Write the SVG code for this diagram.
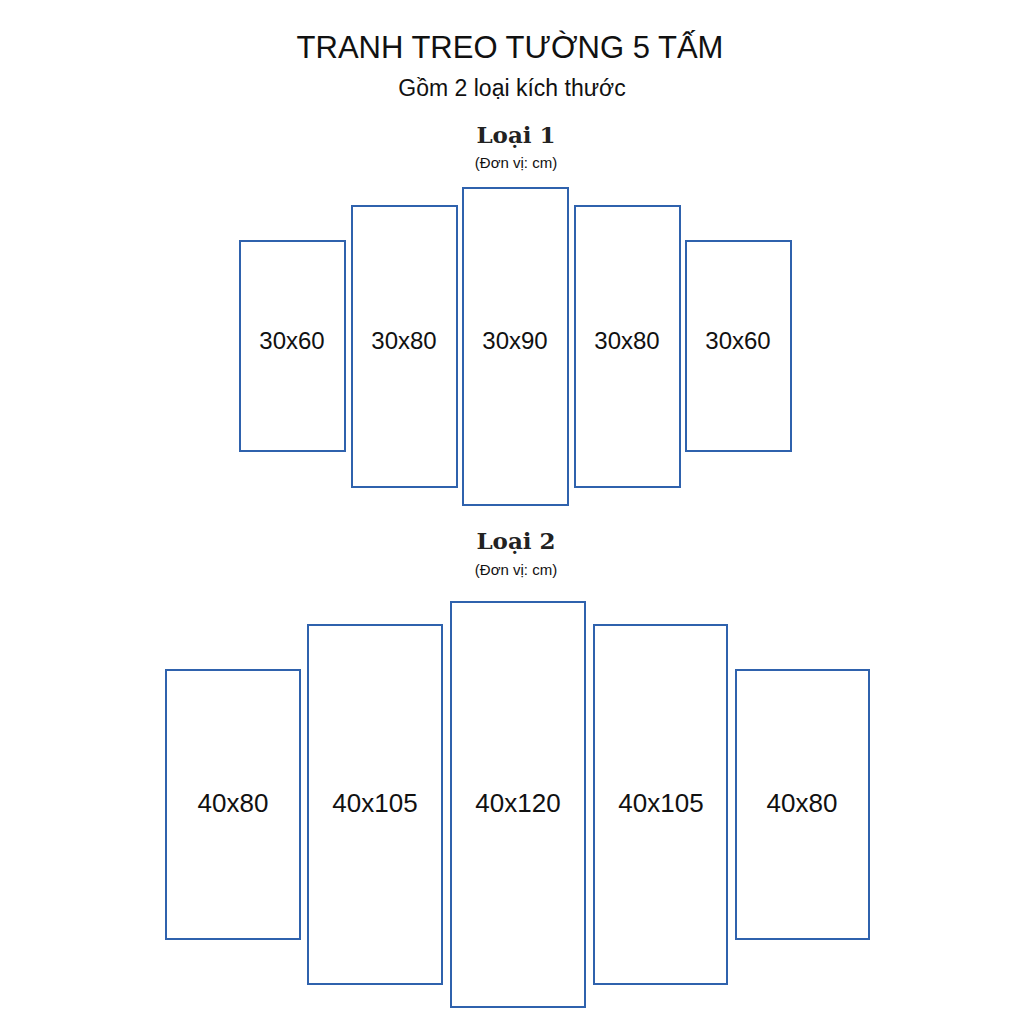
<svg xmlns="http://www.w3.org/2000/svg" width="1024" height="1024" viewBox="0 0 1024 1024">
<style>
.p{fill:#fff;stroke:#2f62ad;stroke-width:2}
.l{font-family:"Liberation Sans",Arial,sans-serif;fill:#111;text-anchor:middle}
.h{font-family:"DejaVu Serif","Liberation Serif",serif;font-weight:bold;fill:#222;text-anchor:middle;font-size:23px}
</style>
<rect width="1024" height="1024" fill="#fff"/>
<text class="l" x="510" y="58" font-size="31">TRANH TREO TƯỜNG 5 TẤM</text>
<text class="l" x="512" y="96" font-size="23">Gồm 2 loại kích thước</text>
<text class="h" x="516" y="143">Loại 1</text>
<text class="l" x="516" y="168" font-size="15">(Đơn vị: cm)</text>
<text class="h" x="516" y="549">Loại 2</text>
<text class="l" x="516" y="575" font-size="15">(Đơn vị: cm)</text>
<g id="t1" font-size="24">
<g id="a1"><rect class="p" x="240" y="241" width="105" height="210"/><text class="l" x="292" y="349" font-size="24">30x60</text></g>
<g id="a2"><rect class="p" x="352" y="206" width="105" height="281"/><text class="l" x="404" y="349" font-size="24">30x80</text></g>
<g id="a3"><rect class="p" x="463" y="188" width="105" height="317"/><text class="l" x="515" y="349" font-size="24">30x90</text></g>
<g id="a4"><rect class="p" x="575" y="206" width="105" height="281"/><text class="l" x="627" y="349" font-size="24">30x80</text></g>
<g id="a5"><rect class="p" x="686" y="241" width="105" height="210"/><text class="l" x="738" y="349" font-size="24">30x60</text></g>
</g>
<g id="t2">
<g id="b1"><rect class="p" x="166" y="670" width="134" height="269"/><text class="l" x="233" y="812" font-size="26">40x80</text></g>
<g id="b2"><rect class="p" x="308" y="625" width="134" height="359"/><text class="l" x="375" y="812" font-size="26">40x105</text></g>
<g id="b3"><rect class="p" x="451" y="602" width="134" height="405"/><text class="l" x="518" y="812" font-size="26">40x120</text></g>
<g id="b4"><rect class="p" x="594" y="625" width="133" height="359"/><text class="l" x="661" y="812" font-size="26">40x105</text></g>
<g id="b5"><rect class="p" x="736" y="670" width="133" height="269"/><text class="l" x="802" y="812" font-size="26">40x80</text></g>
</g>
<g id="connectors"/>
</svg>
